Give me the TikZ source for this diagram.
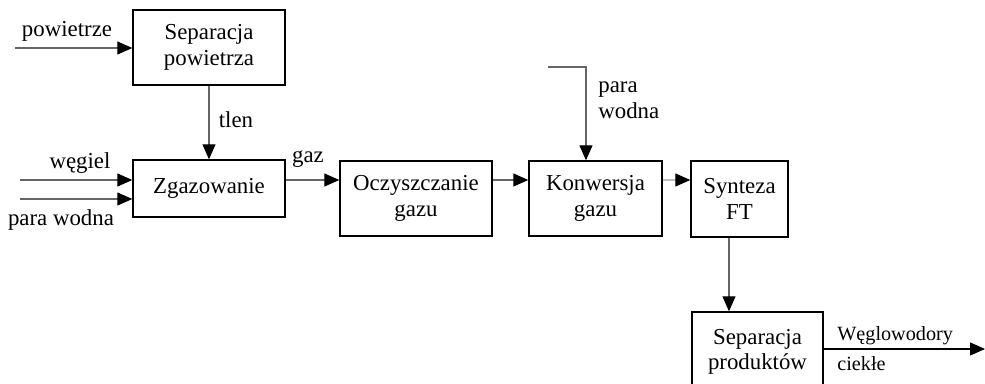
\documentclass[tikz,border=0pt]{standalone}
\usepackage{fontspec}
\setmainfont{Liberation Serif}
\usetikzlibrary{arrows.meta}

\begin{document}
\begin{tikzpicture}[x=0.02cm,y=-0.02cm,
  box/.style={draw=black,line width=0.8pt,align=center,inner sep=0pt,font=\fontsize{13}{14.5}\selectfont},
  flow/.style={draw=black!60,line width=0.6pt,-{Triangle[length=8.5pt,width=7.4pt,color=black]}},
  lbl/.style={inner sep=0pt,font=\fontsize{13}{14.5}\selectfont},
  smalllbl/.style={inner sep=0pt,anchor=west,font=\fontsize{11.5}{13}\selectfont}]

\useasboundingbox (0,0) rectangle (985,384);

% Process blocks
\node[box,minimum width=152*0.02cm,minimum height=75*0.02cm] (sep) at (209,47.5) {Separacja\\powietrza};
\node[box,minimum width=152*0.02cm,minimum height=57*0.02cm] (zgaz) at (209,188.5) {Zgazowanie};
\node[box,minimum width=152*0.02cm,minimum height=75*0.02cm] (ocz) at (416,198.5) {Oczyszczanie\\gazu};
\node[box,minimum width=133*0.02cm,minimum height=75*0.02cm] (konw) at (595.5,198.5) {Konwersja\\gazu};
\node[box,minimum width=97*0.02cm,minimum height=76*0.02cm] (synt) at (739.5,199) {Synteza\\FT};
\node[box,minimum width=131*0.02cm,minimum height=80*0.02cm] (sepprod) at (757.5,352) {Separacja\\produktów};

% Helper points
\coordinate (row) at (0,180);
\coordinate (powin) at (15,48);
\coordinate (wegin) at (20,180);
\coordinate (parain) at (20,199);
\coordinate (parastart) at (548,67);
\coordinate (parabend) at (586,67);
\coordinate (down) at (729,0);
\coordinate (out) at (985,349);

% Inputs
\draw[flow] (powin) -- (sep.west |- powin);
\draw[flow] (wegin) -- (zgaz.west |- wegin);
\draw[flow] (parain) -- (zgaz.west |- parain);
\draw[flow] (sep.south) -- (zgaz.north);
\draw[flow] (parastart) -- (parabend) -- (konw.north -| parabend);

% Main line
\draw[flow] (zgaz.east |- row) -- (ocz.west |- row);
\draw[flow] (ocz.east |- row) -- (konw.west |- row);
\draw[flow,draw=black!25] (konw.east |- row) -- (synt.west |- row);
\draw[flow] (synt.south -| down) -- (sepprod.north -| down);
\draw[flow,draw=black] (sepprod.east |- out) -- (out);

% Labels
\node[lbl] (lpow) at (67,31) {powietrze};
\node[lbl] (lweg) at (80,163) {węgiel};
\node[lbl] (lpara) at (61,220) {para wodna};
\node[lbl] (ltlen) at (236,120) {tlen};
\node[lbl] (lgaz) at (308,159) {gaz};
\node[lbl,anchor=west,align=left] (lpara2) at (598,100) {para\\wodna};
\node[smalllbl] (lwegl) at (837,336) {Węglowodory};
\node[smalllbl] (lciek) at (837,364) {ciekłe};

\end{tikzpicture}
\end{document}
